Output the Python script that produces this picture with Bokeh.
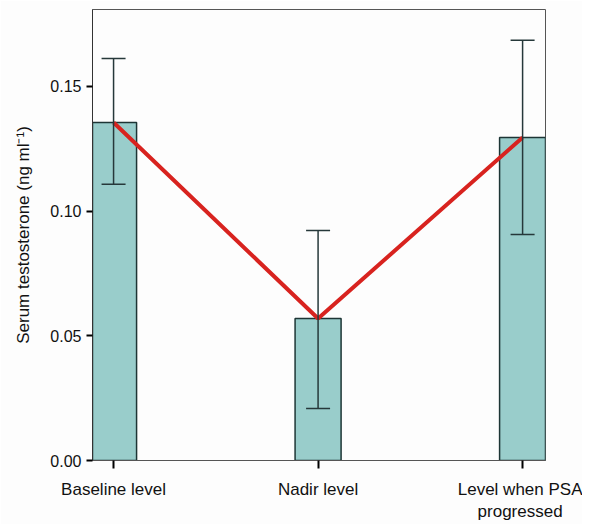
from bokeh.plotting import figure
from bokeh.models import ColumnDataSource, Whisker, TeeHead, FixedTicker, Range1d
from bokeh.embed import file_html
from bokeh.resources import INLINE

categories = ["Baseline level", "Nadir level", "Level when PSA\nprogressed"]
positions = [0, 1, 2]
means = [0.1355, 0.0569, 0.1295]
upper = [0.1612, 0.0922, 0.1685]
lower = [0.1107, 0.0208, 0.0906]
y_ticks = [0.0, 0.05, 0.10, 0.15]

src = ColumnDataSource(dict(x=positions, top=means, upper=upper, lower=lower))

p = figure(width=582, height=524, output_backend="svg", toolbar_location=None,
           x_range=Range1d(-0.103, 2.112), y_range=Range1d(0, 0.1808),
           min_border_left=92, min_border_right=37, min_border_top=9, min_border_bottom=64)
p.background_fill_color = "#fdfdfd"
p.border_fill_color = "#fdfdfd"
p.outline_line_color = "#555555"
p.outline_line_width = 1
p.grid.visible = False

p.vbar(x="x", top="top", width=0.225, bottom=0, source=src,
       fill_color="#99cdcb", line_color="#1d3535", line_width=1.5)
p.line(x="x", y="top", source=src, line_color="#d8231f", line_width=4)
w = Whisker(base="x", upper="upper", lower="lower", source=src, level="overlay",
            line_color="#26383a", line_width=1.5,
            upper_head=TeeHead(size=24, line_color="#26383a", line_width=1.5),
            lower_head=TeeHead(size=24, line_color="#26383a", line_width=1.5))
p.add_layout(w)

p.yaxis.ticker = FixedTicker(ticks=y_ticks)
p.yaxis.major_label_overrides = {t: f"{t:.2f}" for t in y_ticks}
p.yaxis.minor_tick_line_color = None
p.yaxis.major_tick_in = 0
p.yaxis.major_tick_out = 6
p.yaxis.major_tick_line_width = 2
p.yaxis.axis_line_color = "#333333"
p.yaxis.major_label_text_font = "Liberation Sans"
p.yaxis.major_label_text_font_size = "16px"
p.yaxis.major_label_text_color = "#111111"
p.yaxis.axis_label = "Serum testosterone (ng ml\u207b\u00b9)"
p.yaxis.axis_label_text_font = "Liberation Sans"
p.yaxis.axis_label_text_font_style = "normal"
p.yaxis.axis_label_text_font_size = "17px"
p.yaxis.axis_label_text_color = "#111111"
p.yaxis.axis_label_standoff = 14

p.xaxis.ticker = FixedTicker(ticks=positions)
p.xaxis.major_label_overrides = {pos: c for pos, c in zip(positions, categories)}
p.xaxis.minor_tick_line_color = None
p.xaxis.major_tick_in = 0
p.xaxis.major_tick_out = 8
p.xaxis.major_tick_line_width = 2
p.xaxis.axis_line_color = "#555555"
p.xaxis.major_label_text_font = "Liberation Sans"
p.xaxis.major_label_text_font_size = "17px"
p.xaxis.major_label_text_color = "#111111"
p.xaxis.major_label_text_baseline = "middle"
p.xaxis.major_label_standoff = 11

open("out.html", "w").write(file_html(p, INLINE))
